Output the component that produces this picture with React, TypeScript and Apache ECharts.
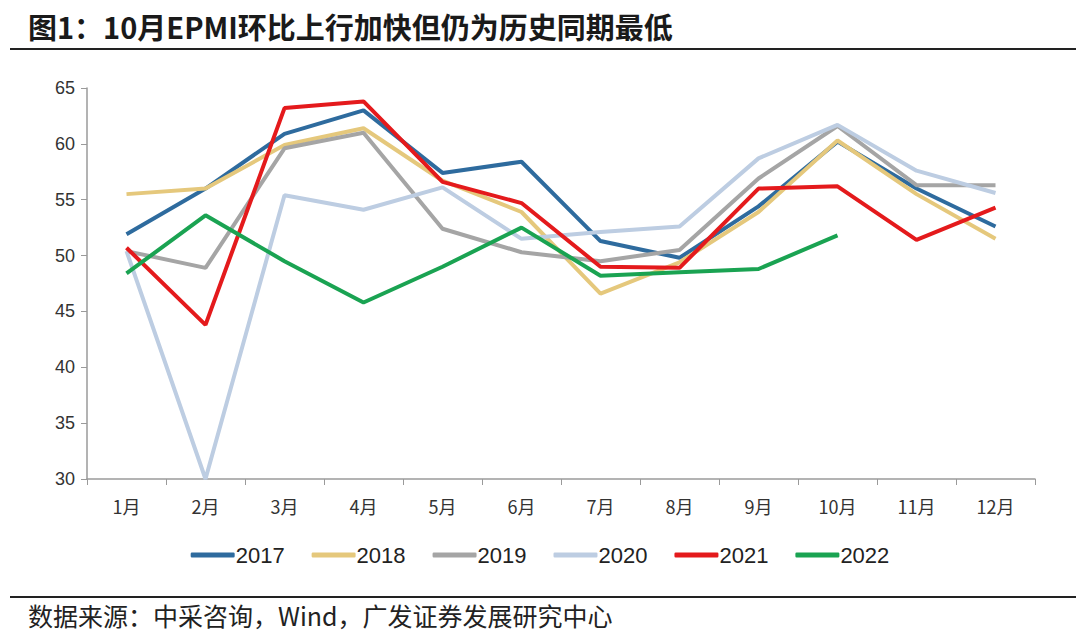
import React, { useEffect, useRef } from "react";
import * as echarts from "echarts";

const months = ["1月", "2月", "3月", "4月", "5月", "6月", "7月", "8月", "9月", "10月", "11月", "12月"];
const yearNames = ["2017", "2018", "2019", "2020", "2021", "2022"];
const s2017 = [51.9, 56.0, 60.9, 63.0, 57.4, 58.4, 51.3, 49.8, 54.4, 60.2, 56.0, 52.6];
const s2018 = [55.5, 56.0, 59.9, 61.4, 56.7, 53.9, 46.6, 49.4, 53.9, 60.3, 55.5, 51.5];
const s2019 = [50.4, 48.9, 59.6, 61.0, 52.4, 50.3, 49.5, 50.5, 56.9, 61.6, 56.3, 56.3];
const s2020 = [50.4, 30.0, 55.4, 54.1, 56.1, 51.5, 52.1, 52.6, 58.7, 61.7, 57.6, 55.6];
const s2021 = [50.7, 43.8, 63.2, 63.8, 56.6, 54.7, 49.0, 48.9, 56.0, 56.2, 51.4, 54.3];
const s2022 = [48.4, 53.6, 49.5, 45.8, 49.0, 52.5, 48.2, 48.5, 48.8, 51.8];
const colors = ["#2E6B9E", "#E5C87C", "#A5A5A5", "#BDCDE2", "#E41A1C", "#1AA352"];
const yTicks = { min: 30, max: 65, interval: 5 };

export default function App() {
  const ref = useRef<HTMLDivElement>(null);
  useEffect(() => {
    const chart = echarts.init(ref.current!, null, { renderer: "svg" });
    const data = [s2017, s2018, s2019, s2020, s2021, s2022];
    chart.setOption({
      animation: false,
      backgroundColor: "#fff",
      textStyle: { fontFamily: "Liberation Sans, Arial, sans-serif" },
      graphic: [
        {
          type: "text",
          left: 28,
          top: 11,
          style: {
            text: "图1：10月EPMI环比上行加快但仍为历史同期最低",
            font: "bold 29px 'Noto Sans CJK SC', sans-serif",
            fill: "#1a1a1a",
          },
        },
        {
          type: "rect",
          shape: { x: 10, y: 48, width: 1066, height: 2 },
          style: { fill: "#222" },
        },
        {
          type: "rect",
          shape: { x: 10, y: 596, width: 1066, height: 2 },
          style: { fill: "#222" },
        },
        {
          type: "text",
          left: 28,
          top: 602,
          style: {
            text: "数据来源：中采咨询，Wind，广发证券发展研究中心",
            font: "25px 'Noto Sans CJK SC', sans-serif",
            fill: "#222",
          },
        },
      ],
      grid: { left: 87, right: 45, top: 88, bottom: 159, containLabel: false },
      legend: {
        data: yearNames,
        bottom: 67,
        left: "center",
        itemWidth: 44,
        itemHeight: 5,
        itemGap: 27,
        icon: "roundRect",
        textStyle: { fontSize: 22, color: "#222", padding: [0, 0, 0, -4] },
      },
      xAxis: {
        type: "category",
        data: months,
        boundaryGap: true,
        axisLine: { lineStyle: { color: "#9a9a9a", width: 1.5 } },
        axisTick: { show: true, length: 6, lineStyle: { color: "#9a9a9a" } },
        axisLabel: { fontSize: 18, color: "#333", margin: 18, fontFamily: "'Noto Sans CJK SC', sans-serif" },
      },
      yAxis: {
        type: "value",
        min: yTicks.min,
        max: yTicks.max,
        interval: yTicks.interval,
        axisLine: { show: true, lineStyle: { color: "#9a9a9a", width: 1.5 } },
        axisTick: { show: true, length: 6, lineStyle: { color: "#9a9a9a" } },
        splitLine: { show: false },
        axisLabel: { fontSize: 18, color: "#333", margin: 12 },
      },
      series: yearNames.map((name, i) => ({
        name,
        type: "line",
        data: data[i],
        symbol: "none",
        lineStyle: { width: 4, color: colors[i] },
        itemStyle: { color: colors[i] },
        z: i,
      })),
    });
    return () => chart.dispose();
  }, []);
  return <div ref={ref} style={{ position: "fixed", left: 0, top: 0, width: 1080, height: 638 }} />;
}
